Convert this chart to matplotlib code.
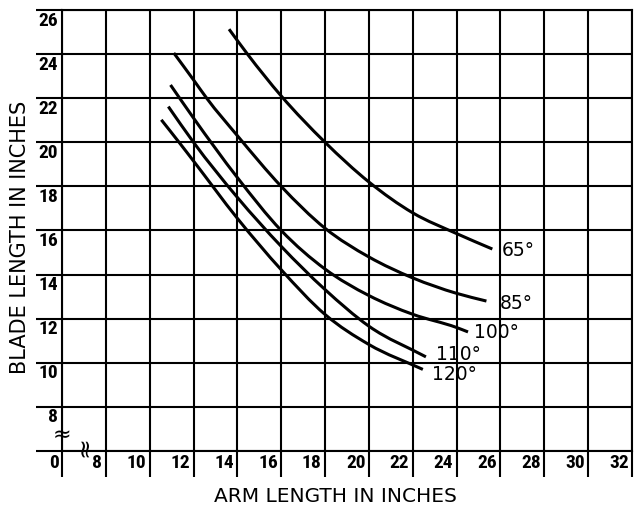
import matplotlib
matplotlib.use('Agg')
import matplotlib.pyplot as plt
from matplotlib import font_manager as fm
from matplotlib.path import Path
from matplotlib.patches import PathPatch

# 곡선 데이터 (팔 길이 -> 날 길이), 각도별
x65 = [13.62, 14.46, 16.0, 18.0, 20.0, 22.0, 24.0, 25.63]
y65 = [25.13, 24.0, 22.1, 20.0, 18.2, 16.8, 15.86, 15.16]

x85 = [11.1, 12.0, 12.6, 14.0, 16.0, 18.0, 20.0, 22.0, 24.0, 25.36]
y85 = [24.05, 22.83, 22.0, 20.3, 18.0, 16.1, 14.8, 13.85, 13.15, 12.8]

x100 = [10.95, 12.0, 14.0, 16.0, 18.0, 20.0, 22.0, 24.0, 24.52]
y100 = [22.6, 21.1, 18.4, 16.0, 14.25, 13.05, 12.2, 11.6, 11.4]

x110 = [10.85, 12.0, 14.0, 16.0, 18.0, 20.0, 22.6]
y110 = [21.62, 20.0, 17.5, 15.28, 13.32, 11.66, 10.27]

x120 = [10.53, 11.34, 12.0, 14.0, 16.0, 18.0, 20.0, 22.46]
y120 = [21.02, 20.0, 19.15, 16.55, 14.22, 12.19, 10.83, 9.7]

labels = ['65°', '85°', '100°', '110°', '120°']
curves = [(x65, y65), (x85, y85), (x100, y100), (x110, y110), (x120, y120)]
# 라벨 위치 보정 (points)
label_off = [(6.7, -1.2), (9.6, -1.6), (4.1, -0.4), (7.6, 1.7), (6.9, -3.6)]

# 축 눈금 (0은 끊어진 축 위치)
x_ticks = list(range(6, 33, 2))
x_labels = ['0'] + [str(v) for v in range(8, 33, 2)]
y_ticks = list(range(6, 27, 2))
y_labels = ['0'] + [str(v) for v in range(8, 27, 2)]


def pick_narrow():
    # 좁은 굵은 글꼴 찾기
    cands = []
    for f in fm.fontManager.ttflist:
        n = (f.name + ' ' + f.fname).lower()
        if ('condensed' in n or 'narrow' in n or f.stretch in ('condensed', 'semi-condensed')):
            score = 0
            if 'bold' in n or f.weight in ('bold', 700):
                score += 2
            if 'italic' in n or 'oblique' in n:
                score -= 5
            if 'extra' in n or 'semi' in n or 'light' in n or 'black' in n:
                score -= 1
            cands.append((score, f.fname))
    if cands:
        cands.sort(reverse=True)
        return fm.FontProperties(fname=cands[0][1], size=14)
    return fm.FontProperties(family='DejaVu Sans', weight='bold', size=11)


tick_fp = pick_narrow()


def smooth(xs, ys):
    # 읽은 점들을 지나는 부드러운 경로
    n = len(xs)
    h = [xs[i + 1] - xs[i] for i in range(n - 1)]
    s = [(ys[i + 1] - ys[i]) / h[i] for i in range(n - 1)]
    m = [s[0]]
    for i in range(1, n - 1):
        m.append((s[i] * h[i - 1] + s[i - 1] * h[i]) / (h[i - 1] + h[i]))
    m.append(s[-1])
    verts = [(xs[0], ys[0])]
    codes = [Path.MOVETO]
    for i in range(n - 1):
        d = h[i] / 3
        verts += [(xs[i] + d, ys[i] + m[i] * d),
                  (xs[i + 1] - d, ys[i + 1] - m[i + 1] * d),
                  (xs[i + 1], ys[i + 1])]
        codes += [Path.CURVE4] * 3
    return Path(verts, codes)


fig = plt.figure(figsize=(6.37, 5.14), dpi=100)
ax = fig.add_axes([62 / 637, 63 / 514, 570 / 637, 441 / 514])

ax.set_xlim(6, 32)
ax.set_ylim(6, 26)
ax.set_xticks(x_ticks)
ax.set_yticks(y_ticks)
ax.grid(True, color='black', lw=1.5)
ax.tick_params(length=19, width=1.5, direction='out', color='black',
               labelleft=False, labelbottom=False)
for sp in ax.spines.values():
    sp.set_linewidth(1.5)
    sp.set_color('black')

for (xs, ys), lab, off in zip(curves, labels, label_off):
    ax.add_patch(PathPatch(smooth(xs, ys), fill=False, edgecolor='black', lw=2.2,
                           capstyle='butt', zorder=3))
    ax.annotate(lab, (xs[-1], ys[-1]), xytext=off, textcoords='offset points',
                ha='left', va='center', fontsize=13.5, family='DejaVu Sans',
                annotation_clip=False)

# 눈금 라벨 (격자선 왼쪽 아래)
for xv, lab in zip(x_ticks, x_labels):
    ax.annotate(lab, (xv, 6), xytext=(-2.5, -8.5), textcoords='offset points',
                ha='right', va='center', fontproperties=tick_fp,
                annotation_clip=False)
for yv, lab in zip(y_ticks[1:], y_labels[1:]):
    ax.annotate(lab, (6, yv), xytext=(-3, -7.6), textcoords='offset points',
                ha='right', va='center', fontproperties=tick_fp,
                annotation_clip=False)

# 축 끊김 표시
ax.text(6, 6.74, '≈', ha='center', va='center', fontsize=16, clip_on=False, zorder=4)
ax.text(7.07, 6.2, '≈', ha='center', va='center', fontsize=18, rotation=90,
        clip_on=False, zorder=4)

fig.text(335 / 637, 1 - 497 / 514, 'ARM LENGTH IN INCHES', ha='center', va='center',
         fontsize=14.5, family='DejaVu Sans')
fig.text(20 / 637, 1 - 237 / 514, 'BLADE LENGTH IN INCHES', ha='center', va='center',
         rotation=90, fontsize=15, family='DejaVu Sans')

fig.savefig('out.png', dpi=100)
